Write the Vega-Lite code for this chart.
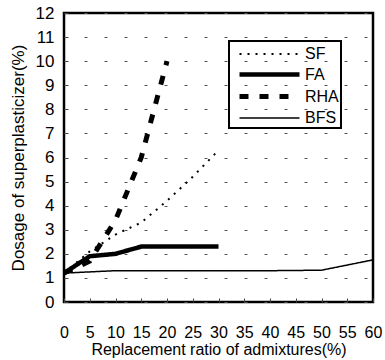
{
  "$schema": "https://vega.github.io/schema/vega-lite/v6.json",
  "width": 309,
  "height": 289,
  "autosize": {"type": "none"},
  "padding": {"left": 64, "top": 13, "right": 12, "bottom": 58},
  "background": "white",
  "config": {
    "font": "Liberation Sans",
    "view": {"stroke": "black", "strokeWidth": 2.5},
    "axis": {"domain": false, "ticks": true, "tickSize": -4, "tickColor": "#444", "tickWidth": 1, "labelColor": "black", "titleColor": "black", "labelFont": "Liberation Sans", "titleFont": "Liberation Sans", "titleFontWeight": "normal"}
  },
  "data": {"values": [
    {"s": "SF", "x": 0, "y": 1.2}, {"s": "SF", "x": 5, "y": 2.1}, {"s": "SF", "x": 10, "y": 2.8}, {"s": "SF", "x": 15, "y": 3.3}, {"s": "SF", "x": 20, "y": 4.2}, {"s": "SF", "x": 25, "y": 5.2}, {"s": "SF", "x": 30, "y": 6.3},
    {"s": "FA", "x": 0, "y": 1.2}, {"s": "FA", "x": 5, "y": 1.9}, {"s": "FA", "x": 10, "y": 2.0}, {"s": "FA", "x": 15, "y": 2.3}, {"s": "FA", "x": 20, "y": 2.3}, {"s": "FA", "x": 25, "y": 2.3}, {"s": "FA", "x": 30, "y": 2.3},
    {"s": "RHA", "x": 0, "y": 1.2}, {"s": "RHA", "x": 5, "y": 1.7}, {"s": "RHA", "x": 10, "y": 3.4}, {"s": "RHA", "x": 15, "y": 6.0}, {"s": "RHA", "x": 20, "y": 10.0},
    {"s": "BFS", "x": 0, "y": 1.2}, {"s": "BFS", "x": 10, "y": 1.3}, {"s": "BFS", "x": 20, "y": 1.3}, {"s": "BFS", "x": 30, "y": 1.3}, {"s": "BFS", "x": 40, "y": 1.3}, {"s": "BFS", "x": 50, "y": 1.32}, {"s": "BFS", "x": 60, "y": 1.75}
  ]},
  "mark": {"type": "line", "color": "black"},
  "encoding": {
    "x": {"field": "x", "type": "quantitative", "scale": {"domain": [0, 60], "nice": false},
      "axis": {"values": [0,5,10,15,20,25,30,35,40,45,50,55,60], "grid": false, "labelFontSize": 16, "labelPadding": 26, "titleFontSize": 16, "titlePadding": 1, "title": "Replacement ratio of admixtures(%)", "labelFlush": false}},
    "y": {"field": "y", "type": "quantitative", "scale": {"domain": [0, 12], "nice": false},
      "axis": {"values": [0,1,2,3,4,5,6,7,8,9,10,11,12], "grid": true, "gridColor": "#555", "gridDash": [3, 17], "gridWidth": 1, "labelFontSize": 17, "labelPadding": 14, "titleFontSize": 17, "titlePadding": 8, "title": "Dosage of superplasticizer(%)", "labelFlush": false}},
    "detail": {"field": "s"},
    "strokeDash": {"field": "s", "type": "nominal", "sort": ["SF", "FA", "RHA", "BFS"],
      "scale": {"domain": ["SF", "FA", "RHA", "BFS"], "range": [[2, 6], [1, 0], [9, 11], [1, 0]]},
      "legend": {"title": null, "orient": "none", "legendX": 165, "legendY": 28, "symbolType": "M-0.4,0H5.6", "symbolSize": 400, "symbolStrokeColor": "black", "labelFontSize": 16, "labelColor": "black", "labelOffset": 49, "strokeColor": "black", "padding": 2, "rowPadding": 0,
        "encode": {"legend": {"update": {"strokeWidth": {"value": 2}}}}}},
    "strokeWidth": {"field": "s", "type": "nominal", "sort": ["SF", "FA", "RHA", "BFS"],
      "scale": {"type": "ordinal", "domain": ["SF", "FA", "RHA", "BFS"], "range": [2, 4.5, 5, 1.5]}}
  }
}
